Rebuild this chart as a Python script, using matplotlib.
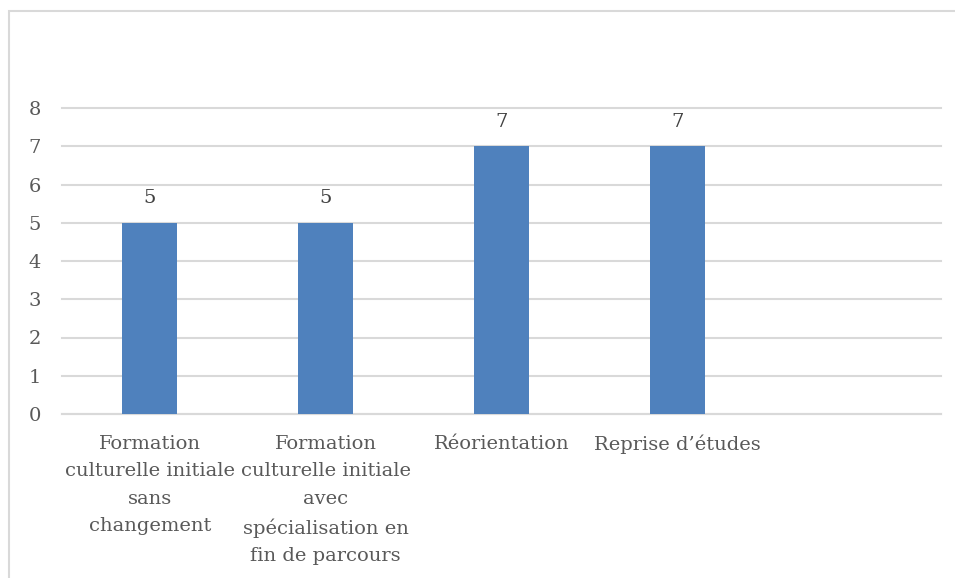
import numpy as np
from matplotlib import pyplot as plt
from matplotlib.patches import Rectangle

# Donnees du graphique
categories = ["Formation\nculturelle initiale\nsans\nchangement",
              "Formation\nculturelle initiale\navec\nspécialisation en\nfin de parcours",
              "Réorientation",
              "Reprise d\u2019études",
              ""]
valeurs = [5, 5, 7, 7, np.nan]
yticks = [0, 1, 2, 3, 4, 5, 6, 7, 8]

gris = '#595959'
bleu = '#4f81bd'
police = 'DejaVu Serif'
taille = 14

W, H = 955, 578
fig = plt.figure(figsize=(W/100, H/100), dpi=100)
ax = fig.add_axes([62/W, 1 - 414/H, (941-62)/W, (414-108)/H])

x = np.arange(len(categories))
ax.bar(x, valeurs, width=0.313, color=bleu, zorder=3)

for xi, v in zip(x, valeurs):
    if not np.isnan(v):
        ax.annotate(str(int(v)), (xi, v), xytext=(0, 11), textcoords='offset points',
                    ha='center', va='bottom', fontsize=taille, color='#404040', family=police)

ax.set_xlim(-0.5, len(categories) - 0.5)
ax.set_ylim(0, 8)
ax.set_yticks(yticks)
ax.set_xticks(x)
ax.set_xticklabels(categories, family=police, fontsize=taille, color=gris, linespacing=1.68)
for t in ax.get_yticklabels():
    t.set_family(police)
    t.set_fontsize(taille)
    t.set_color(gris)
ax.tick_params(axis='y', length=0, pad=15)
ax.tick_params(axis='x', length=0, pad=15)
ax.grid(axis='y', color='#d9d9d9', linewidth=1.5, zorder=0)
for l in ax.get_ygridlines():
    l.set_clip_on(False)
for s in ['top', 'right', 'left']:
    ax.spines[s].set_visible(False)
ax.spines['bottom'].set_color('#d9d9d9')
ax.spines['bottom'].set_linewidth(1.5)

# cadre du graphique (coupé à droite et en bas)
fig.patches.append(Rectangle((9/W, -0.1), 1.2, 1 - 11/H + 0.1, transform=fig.transFigure,
                             fill=False, edgecolor='#d9d9d9', linewidth=1.5))

fig.savefig('out.png', dpi=100)
